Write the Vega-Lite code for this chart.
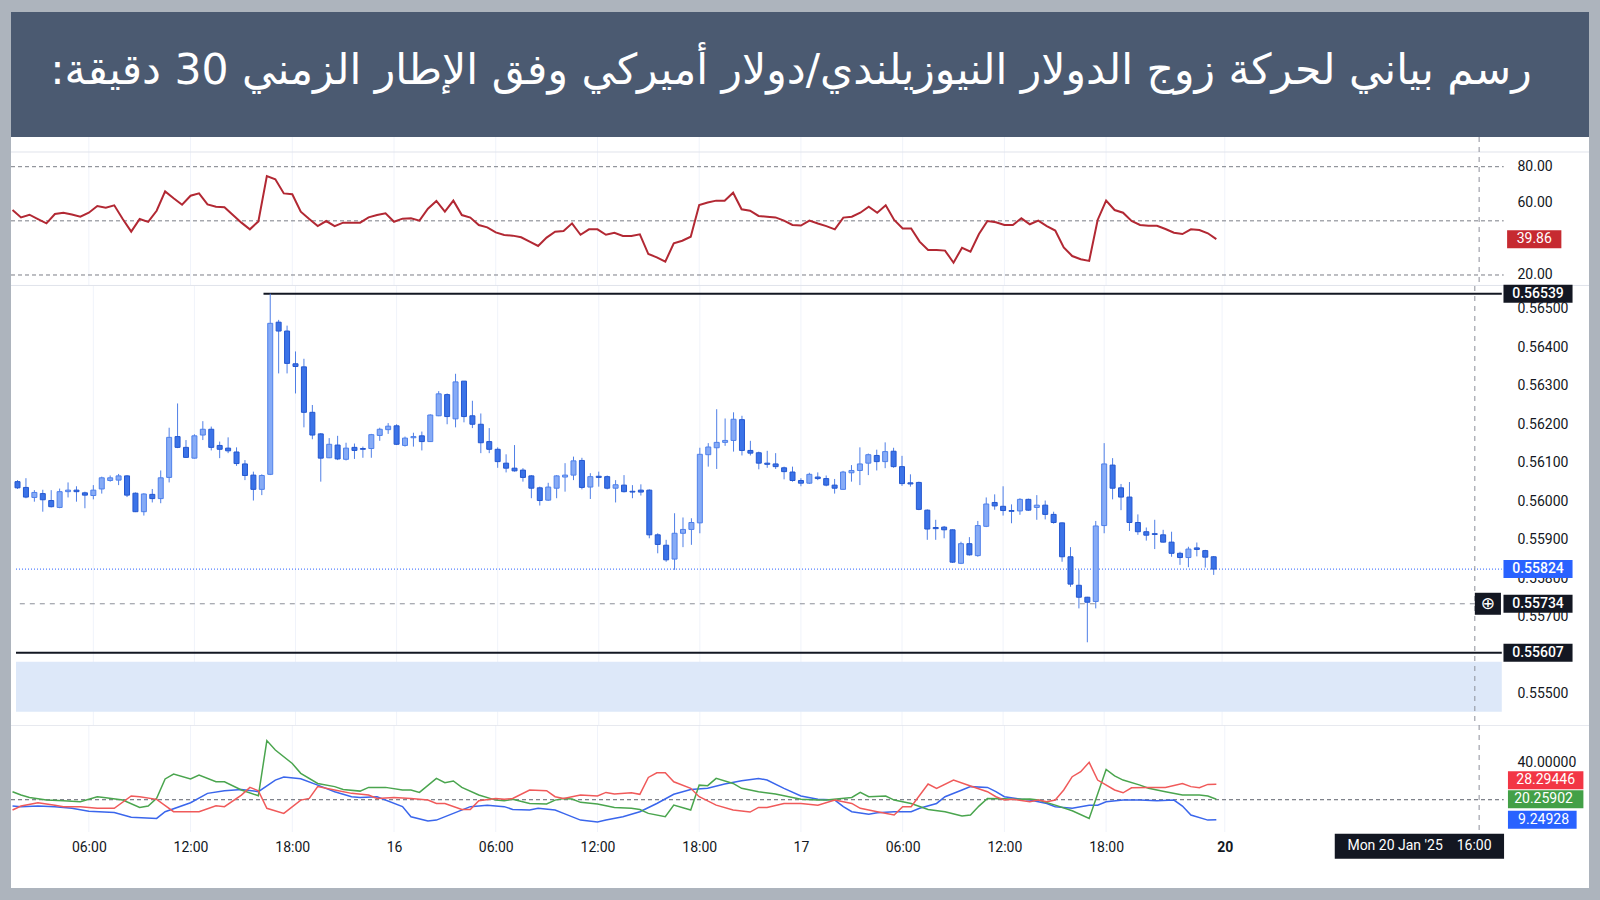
{
"$schema": "https://vega.github.io/schema/vega-lite/v6.json",
"background": "#adb4bd",
"padding": {"left": 11, "top": 12, "right": 11, "bottom": 12},
"spacing": 0,
"bounds": "flush",
"resolve": {"scale": {"color": "independent"}},
"config": {"view": {"stroke": null, "fill": "#ffffff"}, "axis": {"labelFont": "Roboto", "labelFontSize": 14, "labelColor": "#131722", "domain": false, "ticks": false, "grid": false}},
"datasets": {
"ticks": [{"t":12},{"t":24},{"t":36},{"t":48},{"t":60},{"t":72},{"t":84},{"t":96},{"t":108},{"t":120},{"t":132},{"t":146}],
"zone": [{"top":0.555836,"bottom":0.554538}],
"cursor": [{"i":176,"v":0.55734,"time":"Mon 20 Jan '25\u00a0\u00a0\u00a0\u00a016:00"}],
"price_labels": [{"kind":"level","v":0.56539},{"kind":"last","v":0.55824},{"kind":"cursor","v":0.55734},{"kind":"level","v":0.55607}],
"dmi_labels": [{"s":"-DI","v":28.29446},{"s":"+DI","v":20.25902},{"s":"ADX","v":9.24928}],
"rsi_levels": [{"v":80},{"v":50},{"v":20}],
"bars": [
{"i":3,"o":0.56051,"h":0.56055,"l":0.56032,"c":0.56035,"rsi":56.0},
{"i":4,"o":0.56036,"h":0.5606,"l":0.56008,"c":0.56011,"rsi":51.9},
{"i":5,"o":0.5601,"h":0.56029,"l":0.55999,"c":0.56023,"rsi":53.4},
{"i":6,"o":0.5602,"h":0.5603,"l":0.55973,"c":0.56004,"rsi":51.0},
{"i":7,"o":0.56002,"h":0.56029,"l":0.55984,"c":0.55986,"rsi":48.6},
{"i":8,"o":0.55984,"h":0.56033,"l":0.55982,"c":0.56025,"rsi":53.8},
{"i":9,"o":0.56025,"h":0.56049,"l":0.5601,"c":0.56029,"rsi":54.5},
{"i":10,"o":0.56029,"h":0.56039,"l":0.55999,"c":0.56025,"rsi":53.5},
{"i":11,"o":0.56022,"h":0.56025,"l":0.55982,"c":0.56016,"rsi":52.3},
{"i":12,"o":0.56015,"h":0.56042,"l":0.56005,"c":0.56029,"rsi":54.5},
{"i":13,"o":0.56032,"h":0.56064,"l":0.5602,"c":0.56061,"rsi":58.2},
{"i":14,"o":0.56054,"h":0.56067,"l":0.56051,"c":0.56061,"rsi":57.3},
{"i":15,"o":0.56055,"h":0.56071,"l":0.56042,"c":0.56066,"rsi":58.6},
{"i":16,"o":0.56066,"h":0.56068,"l":0.56011,"c":0.56016,"rsi":51.0},
{"i":17,"o":0.56021,"h":0.56023,"l":0.55972,"c":0.55973,"rsi":44.0},
{"i":18,"o":0.55973,"h":0.56021,"l":0.55963,"c":0.56019,"rsi":51.0},
{"i":19,"o":0.56018,"h":0.56032,"l":0.55997,"c":0.56007,"rsi":49.4},
{"i":20,"o":0.56007,"h":0.5608,"l":0.55995,"c":0.56061,"rsi":55.6},
{"i":21,"o":0.56062,"h":0.56191,"l":0.56049,"c":0.56166,"rsi":66.3},
{"i":22,"o":0.56168,"h":0.56254,"l":0.56138,"c":0.5614,"rsi":62.5},
{"i":23,"o":0.5614,"h":0.56159,"l":0.56113,"c":0.56114,"rsi":58.9},
{"i":24,"o":0.56112,"h":0.56174,"l":0.56111,"c":0.5617,"rsi":63.9},
{"i":25,"o":0.56172,"h":0.56208,"l":0.56159,"c":0.56187,"rsi":65.2},
{"i":26,"o":0.56187,"h":0.56194,"l":0.56132,"c":0.5614,"rsi":59.1},
{"i":27,"o":0.56145,"h":0.56155,"l":0.56112,"c":0.56135,"rsi":57.8},
{"i":28,"o":0.56138,"h":0.56166,"l":0.56125,"c":0.56131,"rsi":57.5},
{"i":29,"o":0.56128,"h":0.5614,"l":0.56092,"c":0.56098,"rsi":53.2},
{"i":30,"o":0.56097,"h":0.56107,"l":0.56055,"c":0.56067,"rsi":49.0},
{"i":31,"o":0.56068,"h":0.56077,"l":0.56002,"c":0.56031,"rsi":45.3},
{"i":32,"o":0.56031,"h":0.5607,"l":0.56016,"c":0.56067,"rsi":49.7},
{"i":33,"o":0.5607,"h":0.56539,"l":0.56068,"c":0.56462,"rsi":74.8},
{"i":34,"o":0.56465,"h":0.56471,"l":0.56332,"c":0.56442,"rsi":73.0},
{"i":35,"o":0.56442,"h":0.56456,"l":0.56332,"c":0.56358,"rsi":65.2},
{"i":36,"o":0.56357,"h":0.56389,"l":0.5628,"c":0.5635,"rsi":64.7},
{"i":37,"o":0.56349,"h":0.5637,"l":0.56192,"c":0.56231,"rsi":55.1},
{"i":38,"o":0.56231,"h":0.5625,"l":0.56161,"c":0.56172,"rsi":51.0},
{"i":39,"o":0.56175,"h":0.56177,"l":0.56051,"c":0.56112,"rsi":47.1},
{"i":40,"o":0.56113,"h":0.56164,"l":0.56112,"c":0.56148,"rsi":49.9},
{"i":41,"o":0.56146,"h":0.5617,"l":0.56107,"c":0.5611,"rsi":47.1},
{"i":42,"o":0.56109,"h":0.56152,"l":0.56106,"c":0.56138,"rsi":49.0},
{"i":43,"o":0.5614,"h":0.5615,"l":0.5611,"c":0.56132,"rsi":49.0},
{"i":44,"o":0.56137,"h":0.56142,"l":0.56113,"c":0.56135,"rsi":49.0},
{"i":45,"o":0.56137,"h":0.56175,"l":0.56113,"c":0.56173,"rsi":51.9},
{"i":46,"o":0.56171,"h":0.56191,"l":0.56157,"c":0.56187,"rsi":53.2},
{"i":47,"o":0.56186,"h":0.56203,"l":0.56175,"c":0.56195,"rsi":54.2},
{"i":48,"o":0.56196,"h":0.562,"l":0.56146,"c":0.56148,"rsi":49.5},
{"i":49,"o":0.56145,"h":0.56168,"l":0.56142,"c":0.56164,"rsi":51.2},
{"i":50,"o":0.56165,"h":0.56178,"l":0.56142,"c":0.56168,"rsi":51.4},
{"i":51,"o":0.5617,"h":0.56181,"l":0.56132,"c":0.56155,"rsi":50.1},
{"i":52,"o":0.56155,"h":0.56226,"l":0.56154,"c":0.56224,"rsi":56.7},
{"i":53,"o":0.56222,"h":0.56286,"l":0.56221,"c":0.56279,"rsi":61.0},
{"i":54,"o":0.56277,"h":0.5628,"l":0.562,"c":0.5622,"rsi":55.1},
{"i":55,"o":0.56214,"h":0.56331,"l":0.56192,"c":0.5631,"rsi":61.2},
{"i":56,"o":0.56312,"h":0.56312,"l":0.56205,"c":0.5622,"rsi":53.2},
{"i":57,"o":0.56222,"h":0.56261,"l":0.5619,"c":0.562,"rsi":51.8},
{"i":58,"o":0.562,"h":0.56228,"l":0.56125,"c":0.56152,"rsi":47.7},
{"i":59,"o":0.56155,"h":0.5619,"l":0.56125,"c":0.56135,"rsi":46.4},
{"i":60,"o":0.56135,"h":0.5614,"l":0.56087,"c":0.56103,"rsi":43.6},
{"i":61,"o":0.56099,"h":0.56122,"l":0.56075,"c":0.56086,"rsi":42.2},
{"i":62,"o":0.56086,"h":0.56146,"l":0.56077,"c":0.56079,"rsi":41.8},
{"i":63,"o":0.56081,"h":0.56086,"l":0.56051,"c":0.56062,"rsi":40.9},
{"i":64,"o":0.56066,"h":0.56068,"l":0.56008,"c":0.56034,"rsi":38.5},
{"i":65,"o":0.56035,"h":0.56038,"l":0.55989,"c":0.56002,"rsi":36.1},
{"i":66,"o":0.56003,"h":0.56048,"l":0.56001,"c":0.56037,"rsi":40.7},
{"i":67,"o":0.56034,"h":0.56068,"l":0.56008,"c":0.56066,"rsi":44.0},
{"i":68,"o":0.56063,"h":0.56099,"l":0.56025,"c":0.56068,"rsi":44.4},
{"i":69,"o":0.56068,"h":0.56116,"l":0.56055,"c":0.56105,"rsi":48.6},
{"i":70,"o":0.56106,"h":0.56113,"l":0.56031,"c":0.56036,"rsi":42.3},
{"i":71,"o":0.56037,"h":0.56073,"l":0.56006,"c":0.56064,"rsi":45.3},
{"i":72,"o":0.56065,"h":0.56077,"l":0.56038,"c":0.56062,"rsi":45.3},
{"i":73,"o":0.56064,"h":0.56067,"l":0.56031,"c":0.56034,"rsi":42.3},
{"i":74,"o":0.56034,"h":0.56055,"l":0.55997,"c":0.56043,"rsi":43.4},
{"i":75,"o":0.56042,"h":0.56068,"l":0.56023,"c":0.56025,"rsi":41.6},
{"i":76,"o":0.56026,"h":0.56042,"l":0.56008,"c":0.56024,"rsi":41.6},
{"i":77,"o":0.56029,"h":0.56044,"l":0.56015,"c":0.56024,"rsi":42.5},
{"i":78,"o":0.56029,"h":0.56031,"l":0.55904,"c":0.55913,"rsi":31.6},
{"i":79,"o":0.55913,"h":0.55917,"l":0.55865,"c":0.55888,"rsi":29.8},
{"i":80,"o":0.55886,"h":0.559,"l":0.55843,"c":0.55848,"rsi":27.4},
{"i":81,"o":0.5585,"h":0.55969,"l":0.55822,"c":0.55917,"rsi":37.5},
{"i":82,"o":0.55917,"h":0.55958,"l":0.55881,"c":0.55927,"rsi":39.0},
{"i":83,"o":0.55927,"h":0.55956,"l":0.55887,"c":0.55945,"rsi":41.2},
{"i":84,"o":0.55944,"h":0.56139,"l":0.55917,"c":0.56122,"rsi":58.8},
{"i":85,"o":0.56121,"h":0.56151,"l":0.5609,"c":0.56141,"rsi":60.2},
{"i":86,"o":0.56139,"h":0.56239,"l":0.56084,"c":0.56153,"rsi":61.2},
{"i":87,"o":0.56153,"h":0.56215,"l":0.56144,"c":0.56158,"rsi":61.2},
{"i":88,"o":0.56158,"h":0.56231,"l":0.56129,"c":0.56213,"rsi":65.6},
{"i":89,"o":0.56212,"h":0.56222,"l":0.56119,"c":0.56132,"rsi":56.4},
{"i":90,"o":0.56132,"h":0.56157,"l":0.56119,"c":0.56125,"rsi":55.6},
{"i":91,"o":0.56126,"h":0.56129,"l":0.56083,"c":0.56099,"rsi":52.7},
{"i":92,"o":0.56099,"h":0.56131,"l":0.56087,"c":0.56096,"rsi":52.3},
{"i":93,"o":0.56097,"h":0.56125,"l":0.56084,"c":0.5609,"rsi":51.9},
{"i":94,"o":0.56087,"h":0.5609,"l":0.56057,"c":0.56077,"rsi":50.1},
{"i":95,"o":0.56076,"h":0.5609,"l":0.56051,"c":0.56054,"rsi":47.7},
{"i":96,"o":0.56054,"h":0.5606,"l":0.56039,"c":0.56047,"rsi":47.4},
{"i":97,"o":0.56047,"h":0.56074,"l":0.56045,"c":0.5607,"rsi":50.1},
{"i":98,"o":0.56063,"h":0.56075,"l":0.56055,"c":0.56059,"rsi":48.5},
{"i":99,"o":0.56059,"h":0.56067,"l":0.56039,"c":0.56042,"rsi":47.1},
{"i":100,"o":0.56042,"h":0.56058,"l":0.5602,"c":0.56034,"rsi":45.3},
{"i":101,"o":0.56031,"h":0.56079,"l":0.5603,"c":0.56076,"rsi":51.8},
{"i":102,"o":0.56074,"h":0.56094,"l":0.56051,"c":0.5608,"rsi":52.3},
{"i":103,"o":0.5608,"h":0.5614,"l":0.56042,"c":0.56097,"rsi":54.5},
{"i":104,"o":0.56099,"h":0.56124,"l":0.56068,"c":0.56121,"rsi":57.8},
{"i":105,"o":0.56119,"h":0.56134,"l":0.5608,"c":0.56103,"rsi":54.5},
{"i":106,"o":0.56103,"h":0.56153,"l":0.56086,"c":0.56129,"rsi":58.6},
{"i":107,"o":0.5613,"h":0.56139,"l":0.56087,"c":0.5609,"rsi":50.5},
{"i":108,"o":0.5609,"h":0.56118,"l":0.5604,"c":0.56046,"rsi":45.8},
{"i":109,"o":0.56048,"h":0.5607,"l":0.56038,"c":0.56045,"rsi":45.8},
{"i":110,"o":0.56049,"h":0.56051,"l":0.55977,"c":0.55979,"rsi":38.5},
{"i":111,"o":0.55977,"h":0.55979,"l":0.559,"c":0.55928,"rsi":33.8},
{"i":112,"o":0.55932,"h":0.55952,"l":0.559,"c":0.55929,"rsi":33.8},
{"i":113,"o":0.55933,"h":0.55936,"l":0.55904,"c":0.55926,"rsi":33.5},
{"i":114,"o":0.55926,"h":0.55927,"l":0.5584,"c":0.55842,"rsi":26.8},
{"i":115,"o":0.55839,"h":0.55895,"l":0.55837,"c":0.5589,"rsi":35.1},
{"i":116,"o":0.5589,"h":0.55907,"l":0.55859,"c":0.55861,"rsi":32.9},
{"i":117,"o":0.55859,"h":0.55949,"l":0.55856,"c":0.55937,"rsi":42.7},
{"i":118,"o":0.55935,"h":0.5601,"l":0.55933,"c":0.55993,"rsi":49.9},
{"i":119,"o":0.55997,"h":0.56018,"l":0.55978,"c":0.55988,"rsi":49.2},
{"i":120,"o":0.55987,"h":0.56039,"l":0.55963,"c":0.55976,"rsi":47.7},
{"i":121,"o":0.55976,"h":0.55992,"l":0.55943,"c":0.55974,"rsi":47.7},
{"i":122,"o":0.55975,"h":0.56008,"l":0.55965,"c":0.56005,"rsi":51.4},
{"i":123,"o":0.56005,"h":0.56007,"l":0.55975,"c":0.55977,"rsi":48.1},
{"i":124,"o":0.55984,"h":0.56016,"l":0.55952,"c":0.5599,"rsi":50.1},
{"i":125,"o":0.5599,"h":0.56002,"l":0.55953,"c":0.55966,"rsi":47.1},
{"i":126,"o":0.55966,"h":0.55973,"l":0.55942,"c":0.55945,"rsi":44.6},
{"i":127,"o":0.55944,"h":0.55945,"l":0.55843,"c":0.55856,"rsi":35.3},
{"i":128,"o":0.55856,"h":0.55881,"l":0.55778,"c":0.55785,"rsi":30.5},
{"i":129,"o":0.55782,"h":0.55822,"l":0.55722,"c":0.55751,"rsi":28.7},
{"i":130,"o":0.55751,"h":0.55752,"l":0.55634,"c":0.55738,"rsi":27.8},
{"i":131,"o":0.5574,"h":0.55949,"l":0.55722,"c":0.55936,"rsi":50.5},
{"i":132,"o":0.55937,"h":0.56151,"l":0.55917,"c":0.56097,"rsi":61.2},
{"i":133,"o":0.56094,"h":0.56112,"l":0.56005,"c":0.56034,"rsi":56.0},
{"i":134,"o":0.56035,"h":0.56045,"l":0.55977,"c":0.56011,"rsi":54.5},
{"i":135,"o":0.56011,"h":0.5605,"l":0.55923,"c":0.55945,"rsi":49.9},
{"i":136,"o":0.55945,"h":0.55966,"l":0.55913,"c":0.55921,"rsi":47.7},
{"i":137,"o":0.55921,"h":0.55932,"l":0.55898,"c":0.55912,"rsi":47.3},
{"i":138,"o":0.55916,"h":0.55952,"l":0.55876,"c":0.55914,"rsi":47.3},
{"i":139,"o":0.55913,"h":0.55926,"l":0.55893,"c":0.55894,"rsi":45.5},
{"i":140,"o":0.55894,"h":0.55921,"l":0.55856,"c":0.55865,"rsi":43.4},
{"i":141,"o":0.55865,"h":0.55869,"l":0.55835,"c":0.55854,"rsi":42.7},
{"i":142,"o":0.55854,"h":0.55882,"l":0.55829,"c":0.55876,"rsi":45.3},
{"i":143,"o":0.55879,"h":0.55893,"l":0.55857,"c":0.55875,"rsi":44.9},
{"i":144,"o":0.55872,"h":0.55874,"l":0.55828,"c":0.55855,"rsi":43.1},
{"i":145,"o":0.55856,"h":0.55858,"l":0.55809,"c":0.55824,"rsi":39.86}
],
"pdi": [{"i":3,"v":24.3},{"i":4,"v":22.5},{"i":5,"v":21.2},{"i":7,"v":19.8},{"i":9,"v":19.5},{"i":11,"v":18.9},{"i":13,"v":21.6},{"i":14,"v":21.1},{"i":16,"v":19.8},{"i":18,"v":15.9},{"i":19,"v":16.6},{"i":20,"v":20.7},{"i":21,"v":31.1},{"i":22,"v":33.7},{"i":24,"v":31.1},{"i":25,"v":33.2},{"i":27,"v":29.6},{"i":28,"v":29.6},{"i":30,"v":25.2},{"i":32,"v":22.1},{"i":33,"v":51.6},{"i":34,"v":46.6},{"i":36,"v":39.4},{"i":37,"v":34.1},{"i":39,"v":28.7},{"i":41,"v":27.0},{"i":42,"v":25.5},{"i":44,"v":24.6},{"i":45,"v":26.6},{"i":47,"v":26.6},{"i":49,"v":25.2},{"i":50,"v":25.2},{"i":51,"v":23.9},{"i":53,"v":31.4},{"i":54,"v":29.1},{"i":55,"v":30.0},{"i":56,"v":26.6},{"i":58,"v":22.5},{"i":60,"v":19.8},{"i":61,"v":19.5},{"i":62,"v":20.2},{"i":64,"v":18.0},{"i":66,"v":17.7},{"i":67,"v":19.8},{"i":68,"v":20.7},{"i":69,"v":20.4},{"i":70,"v":18.6},{"i":72,"v":17.7},{"i":74,"v":15.9},{"i":76,"v":15.4},{"i":77,"v":14.8},{"i":78,"v":12.7},{"i":80,"v":10.9},{"i":81,"v":17.1},{"i":83,"v":14.5},{"i":84,"v":27.8},{"i":85,"v":27.5},{"i":86,"v":31.4},{"i":88,"v":28.7},{"i":89,"v":26.1},{"i":91,"v":24.3},{"i":93,"v":23.0},{"i":96,"v":20.2},{"i":98,"v":19.8},{"i":99,"v":19.8},{"i":102,"v":21.2},{"i":103,"v":23.9},{"i":104,"v":21.6},{"i":106,"v":22.0},{"i":107,"v":19.8},{"i":109,"v":18.0},{"i":111,"v":14.8},{"i":113,"v":13.6},{"i":115,"v":11.3},{"i":116,"v":11.8},{"i":117,"v":16.6},{"i":118,"v":20.7},{"i":120,"v":20.5},{"i":121,"v":20.2},{"i":123,"v":20.4},{"i":124,"v":19.8},{"i":126,"v":17.1},{"i":128,"v":14.1},{"i":130,"v":10.0},{"i":132,"v":36.2},{"i":133,"v":32.7},{"i":134,"v":30.5},{"i":136,"v":27.8},{"i":137,"v":26.1},{"i":139,"v":24.3},{"i":141,"v":22.5},{"i":143,"v":22.5},{"i":144,"v":22.0},{"i":145,"v":20.26}],
"mdi": [{"i":3,"v":14.5},{"i":4,"v":16.6},{"i":6,"v":18.4},{"i":8,"v":17.1},{"i":9,"v":16.3},{"i":11,"v":16.3},{"i":13,"v":15.4},{"i":15,"v":15.4},{"i":17,"v":22.0},{"i":18,"v":21.6},{"i":20,"v":20.2},{"i":22,"v":13.6},{"i":25,"v":13.6},{"i":27,"v":16.8},{"i":28,"v":16.3},{"i":30,"v":22.5},{"i":31,"v":26.6},{"i":32,"v":24.8},{"i":33,"v":15.4},{"i":35,"v":12.7},{"i":37,"v":19.8},{"i":38,"v":20.7},{"i":39,"v":27.0},{"i":41,"v":25.2},{"i":43,"v":23.4},{"i":45,"v":22.5},{"i":46,"v":20.7},{"i":48,"v":21.2},{"i":50,"v":20.7},{"i":52,"v":19.8},{"i":53,"v":18.0},{"i":54,"v":18.0},{"i":56,"v":14.8},{"i":57,"v":14.8},{"i":58,"v":19.5},{"i":60,"v":20.7},{"i":61,"v":20.2},{"i":62,"v":20.7},{"i":64,"v":25.2},{"i":66,"v":24.8},{"i":67,"v":21.6},{"i":68,"v":20.7},{"i":70,"v":22.5},{"i":72,"v":22.0},{"i":73,"v":23.9},{"i":74,"v":23.0},{"i":76,"v":23.7},{"i":77,"v":22.9},{"i":78,"v":31.9},{"i":79,"v":34.4},{"i":80,"v":34.4},{"i":81,"v":29.6},{"i":83,"v":26.1},{"i":84,"v":21.6},{"i":86,"v":17.1},{"i":88,"v":14.5},{"i":90,"v":13.4},{"i":91,"v":15.9},{"i":92,"v":15.9},{"i":94,"v":18.0},{"i":96,"v":18.0},{"i":98,"v":17.1},{"i":100,"v":19.8},{"i":102,"v":18.0},{"i":103,"v":15.4},{"i":105,"v":13.6},{"i":107,"v":11.8},{"i":108,"v":16.3},{"i":109,"v":16.3},{"i":111,"v":28.4},{"i":112,"v":26.1},{"i":114,"v":30.5},{"i":116,"v":27.3},{"i":118,"v":24.3},{"i":119,"v":21.6},{"i":120,"v":19.8},{"i":121,"v":20.2},{"i":123,"v":18.9},{"i":124,"v":19.8},{"i":125,"v":18.9},{"i":126,"v":19.8},{"i":127,"v":25.2},{"i":128,"v":32.3},{"i":129,"v":35.0},{"i":130,"v":40.0},{"i":131,"v":30.5},{"i":133,"v":25.2},{"i":134,"v":23.7},{"i":135,"v":26.4},{"i":137,"v":26.6},{"i":139,"v":26.6},{"i":141,"v":28.7},{"i":142,"v":27.0},{"i":143,"v":26.4},{"i":144,"v":28.2},{"i":145,"v":28.29}],
"adx": [{"i":3,"v":16.6},{"i":4,"v":16.3},{"i":6,"v":16.6},{"i":8,"v":16.3},{"i":10,"v":15.4},{"i":12,"v":13.9},{"i":15,"v":13.2},{"i":17,"v":10.6},{"i":20,"v":10.0},{"i":21,"v":13.6},{"i":24,"v":18.4},{"i":26,"v":23.4},{"i":28,"v":24.8},{"i":30,"v":25.5},{"i":32,"v":24.3},{"i":34,"v":30.5},{"i":35,"v":32.1},{"i":37,"v":31.2},{"i":39,"v":27.8},{"i":41,"v":24.3},{"i":43,"v":21.6},{"i":44,"v":21.2},{"i":46,"v":21.6},{"i":49,"v":16.3},{"i":50,"v":10.9},{"i":52,"v":8.6},{"i":53,"v":9.1},{"i":55,"v":12.7},{"i":57,"v":16.3},{"i":59,"v":17.0},{"i":61,"v":16.3},{"i":62,"v":14.8},{"i":64,"v":14.5},{"i":65,"v":15.4},{"i":67,"v":14.5},{"i":68,"v":12.7},{"i":70,"v":9.1},{"i":72,"v":8.1},{"i":73,"v":9.1},{"i":75,"v":10.9},{"i":77,"v":13.6},{"i":79,"v":18.0},{"i":81,"v":22.9},{"i":83,"v":25.5},{"i":85,"v":26.1},{"i":87,"v":28.4},{"i":89,"v":30.2},{"i":91,"v":31.4},{"i":92,"v":30.5},{"i":94,"v":26.1},{"i":96,"v":22.0},{"i":98,"v":20.2},{"i":100,"v":19.8},{"i":101,"v":16.3},{"i":102,"v":13.6},{"i":104,"v":12.3},{"i":105,"v":13.0},{"i":107,"v":13.6},{"i":109,"v":13.6},{"i":110,"v":15.4},{"i":112,"v":18.0},{"i":113,"v":21.6},{"i":115,"v":25.2},{"i":116,"v":27.0},{"i":118,"v":26.6},{"i":119,"v":24.3},{"i":120,"v":21.6},{"i":122,"v":20.2},{"i":123,"v":19.8},{"i":125,"v":18.0},{"i":126,"v":16.3},{"i":128,"v":15.4},{"i":130,"v":17.0},{"i":131,"v":17.1},{"i":132,"v":18.9},{"i":134,"v":19.8},{"i":136,"v":19.8},{"i":138,"v":19.5},{"i":140,"v":19.8},{"i":141,"v":16.6},{"i":142,"v":11.8},{"i":144,"v":9.1},{"i":145,"v":9.25}]
},
"vconcat": [
{
"width": 1578, "height": 125,
"view": {"fill": "#4b5a71", "stroke": null},
"data": {"values": [{"title": "رسم بياني لحركة زوج الدولار النيوزيلندي/دولار أميركي وفق الإطار الزمني 30 دقيقة:\u200f"}]},
"mark": {"type": "text", "color": "#ffffff", "font": "DejaVu Sans", "fontSize": 42.5, "align": "center", "baseline": "middle", "dy": -4, "dx": -9, "clip": true},
"encoding": {"text": {"field": "title", "type": "nominal"}}
},
{
"width": 1578, "height": 149,
"layer": [
{"data": {"name": "ticks"}, "mark": {"type": "rule", "color": "#f0f3fa", "clip": true}, "encoding": {"x": {"field": "t", "type": "quantitative", "scale": {"domain": [2.82, 188.96], "nice": false, "zero": false}, "axis": null}}},
{"data": {"values": [{}]}, "mark": {"type": "rule", "color": "#e0e3eb", "clip": true}, "encoding": {"y": {"datum": 88.14}}},
{"data": {"values": [{}]}, "mark": {"type": "rule", "color": "#e0e3eb", "clip": true}, "encoding": {"y": {"datum": 14.2}}},
{"data": {"name": "rsi_levels"}, "mark": {"type": "rule", "color": "#7b7e87", "strokeDash": [4, 3], "clip": true}, "encoding": {"x": {"datum": 2.82, "axis": null}, "x2": {"datum": 178.9}, "y": {"field": "v", "type": "quantitative"}}},
{"data": {"name": "cursor"}, "mark": {"type": "rule", "color": "#8c8f99", "strokeDash": [5, 5], "clip": true}, "encoding": {"x": {"field": "i", "type": "quantitative", "axis": null}}},
{"data": {"name": "bars"}, "mark": {"type": "line", "color": "#b22833", "strokeWidth": 2, "clip": true}, "encoding": {"x": {"field": "i", "type": "quantitative", "axis": null}, "y": {"field": "rsi", "type": "quantitative", "scale": {"domain": [13.9, 96.45], "nice": false, "zero": false}, "axis": {"orient": "right", "offset": -84, "labelPadding": 12, "values": [20, 60, 80], "format": ".2f", "zindex": 0, "title": null, "labelBaseline": "middle"}}}},
{"data": {"name": "bars"}, "transform": [{"filter": "datum.i == 145"}], "mark": {"type": "rule", "color": "#c62a31", "strokeWidth": 18}, "encoding": {"x": {"datum": 179.3, "axis": null}, "x2": {"datum": 185.7}, "y": {"field": "rsi", "type": "quantitative"}}},
{"data": {"name": "bars"}, "transform": [{"filter": "datum.i == 145"}], "mark": {"type": "text", "color": "#ffffff", "font": "Roboto", "fontSize": 14, "align": "center", "baseline": "middle"}, "encoding": {"x": {"datum": 182.5, "axis": null}, "y": {"field": "rsi", "type": "quantitative"}, "text": {"field": "rsi", "type": "quantitative", "format": ".2f"}}}
]
},
{
"width": 1578, "height": 439,
"layer": [
{"data": {"name": "ticks"}, "mark": {"type": "rule", "color": "#f0f3fa", "clip": true}, "encoding": {"x": {"field": "t", "type": "quantitative", "scale": {"domain": [2.82, 188.96], "nice": false, "zero": false}, "axis": null}}},
{"data": {"name": "zone"}, "mark": {"type": "rect", "color": "#dde8f9", "clip": true}, "encoding": {"x": {"datum": 2.82, "axis": null}, "x2": {"datum": 179.2}, "y": {"field": "top", "type": "quantitative", "scale": {"domain": [0.554193, 0.565589], "nice": false, "zero": false}, "axis": {"orient": "right", "offset": -84, "labelPadding": 12, "values": [0.555, 0.557, 0.558, 0.559, 0.56, 0.561, 0.562, 0.563, 0.564, 0.565], "format": ".5f", "zindex": 0, "title": null, "labelBaseline": "middle"}}, "y2": {"field": "bottom"}}},
{"data": {"name": "bars"}, "transform": [{"filter": "datum.i == 145"}], "mark": {"type": "rule", "color": "#2962ff", "strokeDash": [1, 2], "clip": true}, "encoding": {"x": {"datum": 2.82, "axis": null}, "x2": {"datum": 179.2}, "y": {"field": "c", "type": "quantitative"}}},
{"data": {"name": "cursor"}, "mark": {"type": "rule", "color": "#8c8f99", "strokeDash": [5, 5], "clip": true}, "encoding": {"x": {"field": "i", "type": "quantitative", "axis": null}, "x2": {"datum": 2.82}, "y": {"field": "v", "type": "quantitative"}}},
{"data": {"name": "cursor"}, "mark": {"type": "rule", "color": "#8c8f99", "strokeDash": [5, 5], "clip": true}, "encoding": {"x": {"field": "i", "type": "quantitative", "axis": null}}},
{"data": {"values": [{}]}, "mark": {"type": "rule", "color": "#131722", "strokeWidth": 2, "clip": true}, "encoding": {"x": {"datum": 32.2, "axis": null}, "x2": {"datum": 179.2}, "y": {"datum": 0.56539}}},
{"data": {"values": [{}]}, "mark": {"type": "rule", "color": "#131722", "strokeWidth": 2, "clip": true}, "encoding": {"x": {"datum": 2.82, "axis": null}, "x2": {"datum": 179.2}, "y": {"datum": 0.55607}}},
{"data": {"name": "bars"}, "mark": {"type": "rule", "color": "#4f7fe6", "strokeWidth": 1, "clip": true}, "encoding": {"x": {"field": "i", "type": "quantitative", "axis": null}, "y": {"field": "l", "type": "quantitative"}, "y2": {"field": "h"}}},
{"data": {"name": "bars"}, "mark": {"type": "bar", "width": 5, "strokeWidth": 1, "clip": true}, "encoding": {"x": {"field": "i", "type": "quantitative", "axis": null}, "y": {"field": "o", "type": "quantitative"}, "y2": {"field": "c"}, "color": {"condition": {"test": "datum.c >= datum.o", "value": "#86abf6"}, "value": "#3b73e8"}, "stroke": {"condition": {"test": "datum.c >= datum.o", "value": "#4f80ea"}, "value": "#2457cf"}}},
{"data": {"name": "price_labels"}, "transform": [{"filter": "datum.kind != 'last'"}], "mark": {"type": "rule", "strokeWidth": 18, "color": "#131722"}, "encoding": {"x": {"datum": 179.4, "axis": null}, "x2": {"datum": 187.6}, "y": {"field": "v", "type": "quantitative"}}},
{"data": {"name": "price_labels"}, "transform": [{"filter": "datum.kind == 'last'"}], "mark": {"type": "rule", "strokeWidth": 18, "color": "#2962ff"}, "encoding": {"x": {"datum": 179.4, "axis": null}, "x2": {"datum": 187.6}, "y": {"field": "v", "type": "quantitative"}}},
{"data": {"name": "price_labels"}, "mark": {"type": "text", "color": "#ffffff", "font": "Roboto", "fontSize": 14, "fontWeight": 500, "align": "center", "baseline": "middle"}, "encoding": {"x": {"datum": 183.5, "axis": null}, "y": {"field": "v", "type": "quantitative"}, "text": {"field": "v", "type": "quantitative", "format": ".5f"}}},
{"data": {"name": "cursor"}, "mark": {"type": "rule", "color": "#131722", "strokeWidth": 22}, "encoding": {"x": {"datum": 176.0, "axis": null}, "x2": {"datum": 179.1}, "y": {"field": "v", "type": "quantitative"}}},
{"data": {"name": "cursor"}, "mark": {"type": "text", "color": "#ffffff", "font": "DejaVu Sans", "fontSize": 17, "align": "center", "baseline": "middle", "text": "⊕"}, "encoding": {"x": {"datum": 177.55, "axis": null}, "y": {"field": "v", "type": "quantitative"}}}
]
},
{
"width": 1578, "height": 163,
"layer": [
{"data": {"name": "ticks"}, "mark": {"type": "rule", "color": "#f0f3fa", "clip": true}, "encoding": {"x": {"field": "t", "type": "quantitative", "scale": {"domain": [2.82, 188.96], "nice": false, "zero": false}, "axis": {"orient": "bottom", "offset": -41, "values": [12, 24, 36, 48, 60, 72, 84, 96, 108, 120, 132, 146], "labelExpr": "datum.value == 146 ? '20' : ['06:00','12:00','18:00','16','06:00','12:00','18:00','17','06:00','12:00','18:00'][datum.value / 12 - 1]", "labelFontWeight": {"condition": {"test": "datum.value == 146", "value": "bold"}, "value": "normal"}, "labelBaseline": "middle", "labelPadding": 0, "tickSize": 0, "labelFlush": false, "labelOverlap": false, "title": null, "zindex": 1}}, "y": {"datum": 59.95}, "y2": {"datum": 2.73}}},
{"data": {"values": [{}]}, "mark": {"type": "rule", "color": "#e0e3eb", "clip": true}, "encoding": {"y": {"datum": 59.8}}},
{"data": {"values": [{}]}, "mark": {"type": "rule", "color": "#5d606b", "strokeDash": [4, 3], "clip": true}, "encoding": {"x": {"datum": 2.82}, "x2": {"datum": 178.9}, "y": {"datum": 20}}},
{"data": {"name": "cursor"}, "mark": {"type": "rule", "color": "#8c8f99", "strokeDash": [5, 5], "clip": true}, "encoding": {"x": {"field": "i", "type": "quantitative"}, "y": {"datum": 59.95}, "y2": {"datum": 2.73}}},
{"data": {"name": "adx"}, "mark": {"type": "line", "color": "#3a66ec", "strokeWidth": 1.5, "clip": true}, "encoding": {"x": {"field": "i", "type": "quantitative"}, "y": {"field": "v", "type": "quantitative", "scale": {"domain": [-27.2, 59.95], "nice": false, "zero": false}, "axis": {"orient": "right", "offset": -84, "labelPadding": 12, "values": [40], "format": ".5f", "zindex": 0, "title": null, "labelBaseline": "middle"}}}},
{"data": {"name": "pdi"}, "mark": {"type": "line", "color": "#4aa54e", "strokeWidth": 1.5, "clip": true}, "encoding": {"x": {"field": "i", "type": "quantitative"}, "y": {"field": "v", "type": "quantitative"}}},
{"data": {"name": "mdi"}, "mark": {"type": "line", "color": "#f05a5a", "strokeWidth": 1.5, "clip": true}, "encoding": {"x": {"field": "i", "type": "quantitative"}, "y": {"field": "v", "type": "quantitative"}}},
{"data": {"name": "dmi_labels"}, "transform": [{"filter": "datum.s == '-DI'"}], "mark": {"type": "rule", "strokeWidth": 18, "yOffset": -4, "color": "#f23645"}, "encoding": {"x": {"datum": 179.4}, "x2": {"datum": 188.3}, "y": {"field": "v", "type": "quantitative"}}},
{"data": {"name": "dmi_labels"}, "transform": [{"filter": "datum.s == '+DI'"}], "mark": {"type": "rule", "strokeWidth": 18, "color": "#43a047"}, "encoding": {"x": {"datum": 179.4}, "x2": {"datum": 188.3}, "y": {"field": "v", "type": "quantitative"}}},
{"data": {"name": "dmi_labels"}, "transform": [{"filter": "datum.s == 'ADX'"}], "mark": {"type": "rule", "strokeWidth": 18, "color": "#2962ff"}, "encoding": {"x": {"datum": 179.4}, "x2": {"datum": 187.5}, "y": {"field": "v", "type": "quantitative"}}},
{"data": {"name": "dmi_labels"}, "transform": [{"filter": "datum.s == '-DI'"}], "mark": {"type": "text", "color": "#ffffff", "font": "Roboto", "fontSize": 14, "align": "center", "baseline": "middle", "yOffset": -4}, "encoding": {"x": {"datum": 183.85}, "y": {"field": "v", "type": "quantitative"}, "text": {"field": "v", "type": "quantitative", "format": ".5f"}}},
{"data": {"name": "dmi_labels"}, "transform": [{"filter": "datum.s != '-DI'"}], "mark": {"type": "text", "color": "#ffffff", "font": "Roboto", "fontSize": 14, "align": "center", "baseline": "middle"}, "encoding": {"x": {"datum": 183.6}, "y": {"field": "v", "type": "quantitative"}, "text": {"field": "v", "type": "quantitative", "format": ".5f"}}},
{"data": {"name": "cursor"}, "mark": {"type": "rule", "color": "#131722", "strokeWidth": 25}, "encoding": {"x": {"datum": 158.97}, "x2": {"datum": 178.94}, "y": {"datum": -4.9}}},
{"data": {"name": "cursor"}, "mark": {"type": "text", "color": "#ffffff", "font": "Roboto", "fontSize": 14, "align": "center", "baseline": "middle"}, "encoding": {"x": {"datum": 168.96}, "y": {"datum": -4.9}, "text": {"field": "time", "type": "nominal"}}}
]
}
]
}
